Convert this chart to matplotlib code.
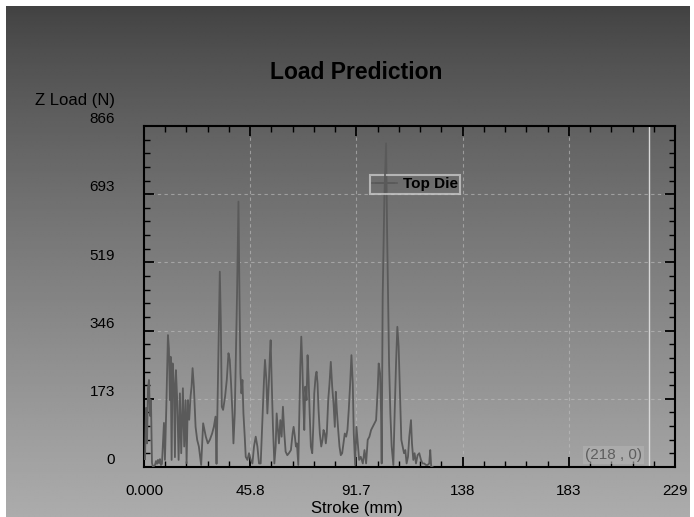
import numpy as np
import matplotlib
matplotlib.use("Agg")
import matplotlib.pyplot as plt
from matplotlib.lines import Line2D
from matplotlib.transforms import ScaledTranslation

plt.rcParams['font.family'] = ['Liberation Sans', 'DejaVu Sans']

# ---- data ----
stroke_mm = [
    0.43, 0.86, 1.29, 1.72, 2.15, 2.58, 3.01, 3.44, 3.87, 4.74, 5.17, 5.60, 6.03, 6.46, 6.89, 7.32, 7.75,
    8.61, 9.04, 9.60, 10.33, 10.76, 11.19, 11.49, 11.92, 12.36, 12.92, 13.35, 13.78, 14.34, 14.94, 15.50,
    16.06, 16.79, 17.35, 17.95, 18.38, 18.94, 19.50, 20.10, 20.53, 20.97, 21.53, 22.26, 22.95, 23.68,
    24.67, 25.53, 26.13, 26.69, 27.55, 28.41, 29.40, 30.14, 30.87, 31.30, 32.16, 32.72, 33.15, 33.58,
    34.14, 35.00, 35.73, 36.46, 37.02, 37.58, 38.18, 38.61, 39.18, 39.74, 40.17, 40.77, 41.20, 41.63,
    42.06, 42.49, 42.92, 43.48, 43.91, 44.64, 45.33, 46.06, 46.80, 47.48, 48.22, 48.95, 49.64, 50.37,
    51.10, 51.79, 52.22, 52.82, 53.25, 53.94, 54.37, 54.67, 55.10, 55.66, 56.27, 56.83, 57.26, 57.69,
    58.25, 58.85, 59.41, 59.97, 60.57, 61.13, 61.86, 62.55, 63.41, 64.14, 64.58, 65.13, 65.57, 66.00,
    66.60, 67.16, 67.46, 67.89, 68.32, 68.75, 69.18, 69.61, 70.17, 70.60, 71.03, 71.46, 72.02, 72.62,
    73.06, 73.49, 74.05, 74.48, 74.91, 75.34, 75.90, 76.50, 77.06, 77.49, 78.05, 78.48, 78.91, 79.51,
    80.07, 80.63, 81.23, 81.80, 82.36, 82.79, 83.22, 83.82, 84.38, 84.94, 85.54, 86.10, 86.66, 87.26,
    87.82, 88.38, 88.99, 89.54, 90.11, 90.54, 91.14, 91.70, 92.26, 92.86, 93.55, 94.45, 95.18, 95.87,
    96.56, 97.29, 98.03, 98.71, 99.45, 100.18, 100.87, 101.30, 101.90, 102.33, 102.59, 103.02, 103.76,
    104.49, 104.92, 105.35, 105.78, 106.34, 106.90, 107.63, 108.19, 108.79, 109.35, 109.91, 110.51,
    111.07, 111.63, 112.23, 112.79, 113.35, 113.95, 114.51, 115.24, 115.67, 116.24, 116.80, 117.40,
    118.09, 118.82, 119.55, 120.24, 120.97, 121.71, 122.39, 123.12, 123.55, 123.98, 124.54,
]
z_load_n = [
    20, 150, 60, 200, 221, 130, 170, 10, 0, 5, 15, 8, 18, 10, 20, 5, 8,
    112, 18, 145, 335, 300, 170, 280, 18, 263, 212, 25, 246, 170, 18, 187,
    35, 200, 52, 170, 10, 170, 120, 180, 204, 251, 204, 102, 69, 52,
    5, 111, 94, 77, 60, 69, 85, 102, 128, 8, 306, 496, 373, 153,
    145, 179, 221, 289, 272, 212, 136, 60, 136, 314, 441, 674, 441, 238,
    187, 221, 136, 77, 26, 18, 35, 18, 9, 52, 77, 52, 9, 9,
    119, 221, 272, 221, 136, 221, 289, 322, 221, 102, 9, 52, 136, 102,
    60, 119, 77, 153, 85, 39, 30, 35, 43, 85, 102, 77, 52, 60,
    5, 170, 255, 331, 263, 170, 94, 204, 170, 284, 229, 145, 52, 35,
    102, 187, 229, 242, 212, 145, 85, 52, 69, 94, 85, 60, 85, 170,
    212, 267, 204, 162, 102, 191, 145, 94, 52, 30, 35, 60, 85, 77,
    94, 145, 212, 284, 212, 85, 5, 102, 60, 18, 26, 9, 43, 9,
    69, 77, 94, 102, 111, 119, 196, 263, 238, 136, 9, 432, 686,
    822, 602, 432, 263, 136, 52, 5, 136, 263, 356, 306, 179,
    69, 52, 35, 43, 9, 26, 77, 119, 60, 18, 35, 9,
    30, 35, 18, 9, 9, 5, 5, 9, 43, 0, 0,
]
x_ticks = [0.0, 45.84, 91.68, 137.52, 183.36, 229.2]
x_tick_labels = ["0.000", "45.8", "91.7", "138", "183", "229"]
y_ticks = [0.0, 173.2, 346.4, 519.6, 692.8, 866.0]
y_tick_labels = ["0", "173", "346", "519", "693", "866"]
cursor_x = 218
cursor_label = "(218 , 0)"

W, H = 694, 517
fig = plt.figure(figsize=(W / 100, H / 100), dpi=100)
fig.patch.set_facecolor('white')

# gradient background panel
bg = fig.add_axes([6 / W, 0, (690 - 6) / W, (H - 6) / H])
rows = np.linspace(0, 1, 256)
vals = 66 + (172 - 66) * rows ** 0.85
grad = np.repeat(vals[:, None], 2, axis=1)
bg.imshow(grad, aspect='auto', cmap='gray', vmin=0, vmax=255,
          extent=[0, 1, 0, 1], origin='upper', interpolation='bilinear')
bg.set_axis_off()
bg.set_zorder(-10)

ax = fig.add_axes([144 / W, (H - 467) / H, (675 - 144) / W, (467 - 126) / H])
ax.patch.set_alpha(0)

ax.plot(stroke_mm, z_load_n, color='#5a5a5a', lw=1.3, zorder=3)

ax.set_xlim(0, 229.2)
ax.set_ylim(0, 866)
ax.set_xticks(x_ticks)
ax.set_xticklabels(x_tick_labels)
ax.set_yticks(y_ticks)
ax.set_yticklabels(y_tick_labels)
ax.set_xticks(np.linspace(0, 229.2, 26), minor=True)
ax.set_yticks(np.linspace(0, 866, 26), minor=True)

ax.tick_params(which='both', direction='in', top=True, right=True, colors='black',
               labelsize=11, labelcolor='black')
ax.tick_params(which='major', length=7, width=1.3)
ax.tick_params(which='minor', length=4.5, width=1.0)
ax.tick_params(axis='x', which='major', pad=12)
ax.tick_params(axis='y', which='major', pad=21)
off = ScaledTranslation(0, 2 / 72, fig.dpi_scale_trans)
for lbl in ax.get_yticklabels():
    lbl.set_va('baseline')
    lbl.set_transform(lbl.get_transform() + off)

for s in ax.spines.values():
    s.set_linewidth(1.5)
    s.set_color('black')

for xv in x_ticks[1:-1]:
    ax.axvline(xv, color='#c0c0c0', lw=0.8, ls=(0, (3, 3)), alpha=0.6, zorder=1)
for yv in y_ticks[1:-1]:
    ax.axhline(yv, color='#c0c0c0', lw=0.8, ls=(0, (3, 3)), alpha=0.6, zorder=1)

ax.axvline(cursor_x, color='#d8d8d8', lw=1.0, zorder=2)
ax.text(cursor_x - 3, 30, cursor_label, ha='right', va='center', fontsize=11,
        color='#5e5e5e', zorder=4,
        bbox=dict(boxstyle='square,pad=0.15', facecolor='#b4b4b4', edgecolor='none', alpha=0.6))

handle = Line2D([0], [0], color='#5a5a5a', lw=1.2, marker='+', markersize=14,
                markeredgewidth=1.2)
leg = ax.legend([handle], ['Top Die'], loc='upper left',
                bbox_to_anchor=(370 / W, 1 - 175 / H), bbox_transform=fig.transFigure,
                frameon=True, fancybox=False, handlelength=1.6, handletextpad=0.4,
                borderpad=0.15, borderaxespad=0, prop={'weight': 'bold', 'size': 11})
leg.get_frame().set_facecolor('none')
leg.get_frame().set_edgecolor('#c8c8c8')
leg.get_frame().set_linewidth(1.5)

fig.text(356 / W, 1 - 73 / H, 'Load Prediction', ha='center', va='center',
         fontsize=16.5, fontweight='bold', color='black')
fig.text(75 / W, 1 - 100 / H, 'Z Load (N)', ha='center', va='center',
         fontsize=12, color='black')
fig.text(357 / W, 1 - 509 / H, 'Stroke (mm)', ha='center', va='center',
         fontsize=12, color='black')

fig.savefig('out.png', dpi=100)
